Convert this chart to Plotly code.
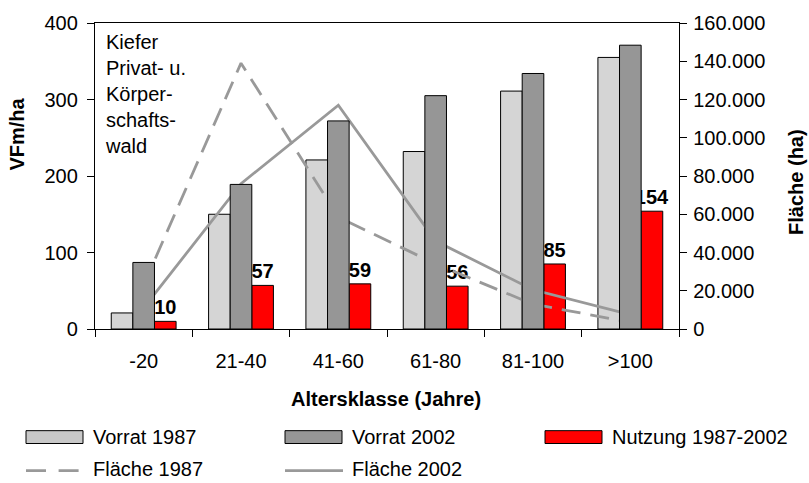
import plotly.graph_objects as go

# Age classes and series
klassen = ["-20", "21-40", "41-60", "61-80", "81-100", ">100"]
vorrat_1987 = [21, 150, 221, 232, 311, 355]
vorrat_2002 = [87, 189, 272, 305, 334, 371]
nutzung = [10, 57, 59, 56, 85, 154]
flaeche_1987 = [23000, 139000, 58500, 34000, 13000, 3500]
flaeche_2002 = [11000, 76000, 117000, 46000, 20500, 7500]

FONT = "Liberation Sans, Arial, sans-serif"
GRAY_LINE = "#999999"
DARK_BAR = "#969696"
RED = "#ff0000"

# plot area in pixels
L, R, T, B = 95, 679, 19, 329
W, H = 809, 483


def px(x):
    return (x - L) / (R - L)


def py(y):
    return (B - y) / (B - T)


bar_w = 0.222

fig = go.Figure()

# Vorrat 1987 (dotted fill) and Nutzung on the base layer
fig.add_trace(go.Bar(
    x=klassen, y=vorrat_1987, name="Vorrat 1987",
    width=bar_w, offset=-1.5 * bar_w,
    marker=dict(color="#c4c4c4",
                line=dict(color="black", width=1),
                pattern=dict(shape=".", size=2, solidity=0.7,
                             fgcolor="#a8a8a8", bgcolor="#ececec")),
    yaxis="y",
))
fig.add_trace(go.Bar(
    x=klassen, y=nutzung, name="Nutzung 1987-2002",
    width=bar_w, offset=0.5 * bar_w,
    marker=dict(color=RED, line=dict(color="black", width=1)),
    text=nutzung, texttemplate="<b>%{y}</b>", textposition="outside",
    textfont=dict(family=FONT, size=20, color="black"),
    constraintext="none", cliponaxis=False,
    yaxis="y",
))

# Area lines on the secondary axis
fig.add_trace(go.Scatter(
    x=klassen, y=flaeche_1987, name="Fläche 1987", mode="lines",
    line=dict(color=GRAY_LINE, width=2.8, dash="19px,10px"),
    yaxis="y2",
))
fig.add_trace(go.Scatter(
    x=klassen, y=flaeche_2002, name="Fläche 2002", mode="lines",
    line=dict(color=GRAY_LINE, width=2.8),
    yaxis="y2",
))

# Vorrat 2002 on top layer
fig.add_trace(go.Bar(
    x=klassen, y=vorrat_2002, name="Vorrat 2002",
    width=bar_w, offset=-0.5 * bar_w,
    marker=dict(color=DARK_BAR, line=dict(color="black", width=1)),
    yaxis="y3",
))

axis_common = dict(showgrid=False, zeroline=False, showline=True,
                   linecolor="black", linewidth=1.3, ticks="outside",
                   ticklen=7, tickcolor="black", tickwidth=1.3,
                   tickfont=dict(family=FONT, size=20, color="black"))

fig.update_layout(
    width=W, height=H,
    margin=dict(l=L, r=W - R, t=T, b=H - B),
    paper_bgcolor="white", plot_bgcolor="white",
    barmode="overlay", showlegend=False, separators=",.",
    font=dict(family=FONT, size=20, color="black"),
    xaxis=dict(type="category", tickson="boundaries", range=[-0.5, 5.5],
               mirror=True, ticklabelstandoff=14, **axis_common),
    yaxis=dict(range=[0, 400], dtick=100, ticklabelstandoff=5,
               **axis_common),
    yaxis2=dict(overlaying="y", side="right", range=[0, 160000],
                dtick=20000, tickformat=",", ticklabelstandoff=2,
                **axis_common),
    yaxis3=dict(overlaying="y", range=[0, 400], visible=False),
)

annotations = [
    dict(x=px(103), y=py(25), xanchor="left", yanchor="top", align="left",
         text="Kiefer<br>Privat- u.<br>Körper-<br>schafts-<br>wald",
         font=dict(size=20)),
    dict(x=px(17), y=py(132), textangle=-90, text="<b>VFm/ha</b>",
         xanchor="center", yanchor="middle", font=dict(size=20)),
    dict(x=px(796), y=py(180), textangle=-90, text="<b>Fläche (ha)</b>",
         xanchor="center", yanchor="middle", font=dict(size=20)),
    dict(x=px(386), y=py(400), text="<b>Altersklasse (Jahre)</b>",
         xanchor="center", yanchor="middle", font=dict(size=20)),
]

shapes = []
# legend, row 1: bar swatches
legend_bars = [
    (26, "Vorrat 1987", "#c8c8c8"),
    (285, "Vorrat 2002", DARK_BAR),
    (545, "Nutzung 1987-2002", RED),
]
for x0, label, col in legend_bars:
    shapes.append(dict(type="rect", xref="paper", yref="paper",
                       x0=px(x0), x1=px(x0 + 57), y0=py(432), y1=py(445),
                       fillcolor=col, line=dict(color="black", width=1)))
    annotations.append(dict(x=px(x0 + 65), y=py(438), text=label,
                            xanchor="left", yanchor="middle",
                            font=dict(size=20)))
# legend, row 2: line swatches
legend_lines = [
    (26, "Fläche 1987", "20px,12.6px"),
    (285, "Fläche 2002", "solid"),
]
for x0, label, dash in legend_lines:
    shapes.append(dict(type="line", xref="paper", yref="paper",
                       x0=px(x0), x1=px(x0 + 58), y0=py(472.5), y1=py(472.5),
                       line=dict(color=GRAY_LINE, width=2.8, dash=dash)))
    annotations.append(dict(x=px(x0 + 65), y=py(471), text=label,
                            xanchor="left", yanchor="middle",
                            font=dict(size=20)))

for a in annotations:
    a.setdefault("xref", "paper")
    a.setdefault("yref", "paper")
    a.setdefault("showarrow", False)

fig.update_layout(annotations=annotations, shapes=shapes)

fig.write_html("out.html")
